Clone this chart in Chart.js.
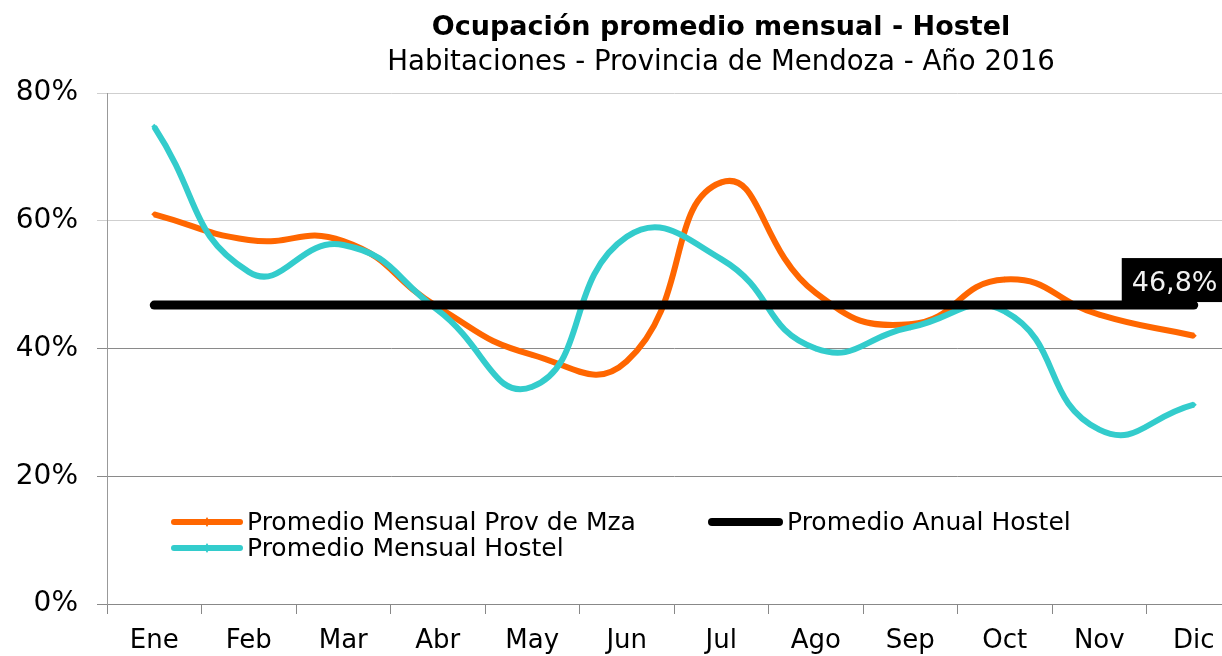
<!DOCTYPE html>
<html lang="es">
<head>
<meta charset="UTF-8">
<title>Ocupación promedio mensual - Hostel</title>
<script src="https://cdn.jsdelivr.net/npm/chart.js"></script>
<style>
  html, body { margin: 0; padding: 0; background: #fff; overflow: hidden; }
  #grafico { display: block; }
</style>
</head>
<body>
<canvas id="grafico" width="1245" height="656"></canvas>
<script>
// datos
const meses = ['Ene', 'Feb', 'Mar', 'Abr', 'May', 'Jun', 'Jul', 'Ago', 'Sep', 'Oct', 'Nov', 'Dic'];
const promedioProvMza = [61, 57, 56.8, 46.5, 39, 38, 66, 48.7, 43.8, 50.8, 45.3, 42];
const promedioHostel = [74.7, 52, 56.2, 46, 34, 57.5, 54, 40, 43.3, 45.8, 27.3, 31.2];
const promedioAnualHostel = [46.8, 46.8, 46.8, 46.8, 46.8, 46.8, 46.8, 46.8, 46.8, 46.8, 46.8, 46.8];
const etiquetaAnual = '46,8%';
const ticksY = [0, 20, 40, 60, 80];

const titulo = 'Ocupación promedio mensual - Hostel';
const subtitulo = 'Habitaciones - Provincia de Mendoza - Año 2016';
const series = [
    { nombre: 'Promedio Mensual Prov de Mza', color: '#ff6600' },
    { nombre: 'Promedio Mensual Hostel', color: '#33cccc' },
    { nombre: 'Promedio Anual Hostel', color: '#000000' }
];

const FUENTE = '"DejaVu Sans", Verdana, sans-serif';
Chart.defaults.font.family = FUENTE;

// titulos, leyenda y etiqueta del promedio anual
const decoracion = {
    id: 'decoracion',
    afterDraw(chart) {
        const ctx = chart.ctx;
        const area = chart.chartArea;
        ctx.save();

        ctx.fillStyle = '#000';
        ctx.textAlign = 'center';
        ctx.textBaseline = 'alphabetic';
        ctx.font = 'bold 27px ' + FUENTE;
        ctx.fillText(titulo, 721, 35);
        ctx.font = '27.6px ' + FUENTE;
        ctx.fillText(subtitulo, 721, 70);

        // leyenda
        const linea = (x1, x2, y, color, ancho, marca) => {
            ctx.strokeStyle = color;
            ctx.lineWidth = ancho;
            ctx.lineCap = 'round';
            ctx.beginPath();
            ctx.moveTo(x1, y);
            ctx.lineTo(x2, y);
            ctx.stroke();
            if (marca) {
                const xm = (x1 + x2) / 2;
                ctx.fillStyle = color;
                ctx.beginPath();
                ctx.moveTo(xm, y - 5);
                ctx.lineTo(xm + 3, y);
                ctx.lineTo(xm, y + 5);
                ctx.lineTo(xm - 3, y);
                ctx.closePath();
                ctx.fill();
            }
        };
        const x0 = area.left + 67;
        linea(x0, x0 + 66, 522, series[0].color, 6, true);
        linea(x0, x0 + 66, 548, series[1].color, 6, true);
        linea(area.left + 605, area.left + 672, 522, series[2].color, 8, false);

        ctx.fillStyle = '#000';
        ctx.textAlign = 'left';
        ctx.font = '25px ' + FUENTE;
        ctx.fillText(series[0].nombre, area.left + 140, 530);
        ctx.fillText(series[1].nombre, area.left + 140, 556);
        ctx.fillText(series[2].nombre, area.left + 680, 530);

        // etiqueta del ultimo punto de la serie anual
        const meta = chart.getDatasetMeta(2);
        const p = meta.data[meta.data.length - 1];
        ctx.fillStyle = '#000';
        ctx.fillRect(p.x - 72, p.y - 47, chart.width - (p.x - 72), 44);
        ctx.fillStyle = '#f2f2f2';
        ctx.font = '27px ' + FUENTE;
        ctx.fillText(etiquetaAnual, p.x - 62, p.y - 14);

        ctx.restore();
    }
};

const ctx = document.getElementById('grafico').getContext('2d');
const grafico = new Chart(ctx, {
    type: 'line',
    data: {
        labels: meses,
        datasets: [
            {
                label: series[0].nombre,
                data: promedioProvMza,
                borderColor: series[0].color,
                backgroundColor: series[0].color,
                borderWidth: 6,
                tension: 0.5,
                pointStyle: 'rectRot',
                pointRadius: 3,
                pointBorderWidth: 0,
                order: 2
            },
            {
                label: series[1].nombre,
                data: promedioHostel,
                borderColor: series[1].color,
                backgroundColor: series[1].color,
                borderWidth: 6,
                tension: 0.5,
                pointStyle: 'rectRot',
                pointRadius: 3,
                pointBorderWidth: 0,
                order: 1
            },
            {
                label: series[2].nombre,
                data: promedioAnualHostel,
                borderColor: series[2].color,
                backgroundColor: series[2].color,
                borderWidth: 9,
                borderCapStyle: 'round',
                tension: 0,
                pointRadius: 0,
                order: 0
            }
        ]
    },
    options: {
        responsive: false,
        animation: false,
        layout: { padding: { top: 93, right: 4, left: 0, bottom: 0 } },
        plugins: {
            legend: { display: false },
            title: { display: false },
            tooltip: { enabled: false }
        },
        scales: {
            x: {
                offset: true,
                grid: {
                    offset: true,
                    drawOnChartArea: false,
                    drawTicks: true,
                    tickLength: 10,
                    color: '#888'
                },
                border: { color: '#888' },
                ticks: { color: '#000', font: { size: 26 }, padding: 12 },
                afterFit: (s) => { s.height = 52; }
            },
            y: {
                min: ticksY[0],
                max: ticksY[ticksY.length - 1],
                afterBuildTicks: (s) => { s.ticks = ticksY.map(v => ({ value: v })); },
                grid: {
                    tickLength: 10,
                    color: (c) => (c.tick && c.tick.value >= 60 ? '#cfcfcf' : '#8a8a8a')
                },
                border: { color: '#999' },
                ticks: {
                    color: '#000',
                    font: { size: 28 },
                    padding: 19,
                    callback: (v) => v + '%'
                },
                afterFit: (s) => { s.width = 107; }
            }
        }
    },
    plugins: [decoracion]
});
</script>
</body>
</html>
